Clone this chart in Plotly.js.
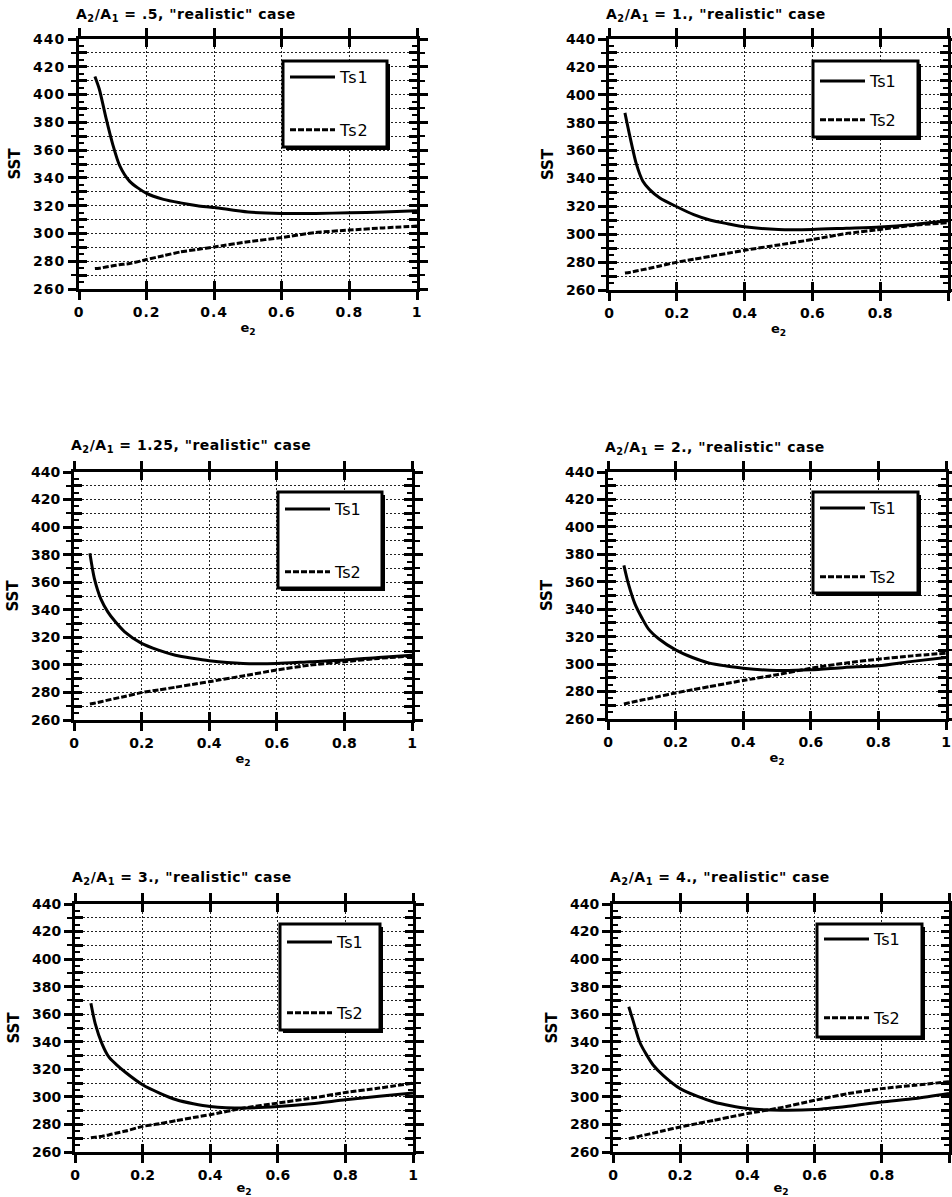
<!DOCTYPE html>
<html><head><meta charset="utf-8">
<script src="https://cdn.plot.ly/plotly-3.0.1.min.js"></script>
<style>
body{margin:0;background:#fff}
.annotation-text{letter-spacing:0.5px}
.xtick text,.ytick text{letter-spacing:1px}
.legendtext{letter-spacing:1px}
</style>
</head><body><div id="chart" style="width:952px;height:1197px"></div>
<script>
// ---- data ----
const ratioLabels = ['.5', '1.', '1.25', '2.', '3.', '4.'];
const seriesNames = ['Ts1', 'Ts2'];
const e2 = [0.047, 0.06, 0.08, 0.1, 0.12, 0.15, 0.2, 0.25, 0.3, 0.35, 0.4, 0.5, 0.6, 0.7, 0.8, 0.9, 1.0];

const ts1_r05  = [413, 404, 383, 364, 349, 337.5, 328.8, 324.5, 322, 320, 318.7, 315.4, 314.4, 314.4, 314.9, 315.4, 316.3];
const ts2_r05  = [274.7, 275, 275.8, 276.7, 277.5, 278.3, 281.2, 284, 286.7, 288.5, 290.3, 294, 297.1, 300.7, 302.4, 304, 305.3];
const ts1_r1   = [387, 372, 351, 338, 332, 326, 319.7, 314, 310, 307.5, 305.3, 303.4, 303.4, 304.3, 305.2, 307, 309.6];
const ts2_r1   = [272.2, 272.6, 273.6, 274.6, 275.6, 277.2, 280, 282, 284.2, 286.3, 288.5, 292.3, 296.2, 300.5, 303.4, 306.5, 308.2];
const ts1_r125 = [381, 363, 347.5, 338.5, 332, 324, 315.6, 310.7, 307, 304.8, 303, 301, 301, 302.3, 303.5, 305.4, 307];
const ts2_r125 = [271.6, 272.2, 273.3, 274.4, 275.5, 277.1, 279.9, 281.8, 283.8, 285.8, 287.8, 292, 296.3, 299.9, 302.3, 304.7, 306.4];
const ts1_r2   = [372, 358.8, 343.7, 333.8, 325.5, 318.5, 310.4, 304.8, 300.7, 298.6, 297, 295.4, 295.9, 297.6, 298.8, 302, 304.8];
const ts2_r2   = [271, 271.7, 272.7, 273.8, 274.8, 276.4, 279, 281.3, 283.6, 285.8, 288.1, 292.3, 297, 300.7, 303.6, 306, 308];
const ts1_r3   = [368, 353, 338.5, 329, 324, 317.7, 308.8, 302.8, 297.9, 295, 293, 291.9, 293, 295, 297.9, 300.4, 302.8];
const ts2_r3   = [270.3, 270.8, 271.5, 272.4, 273.6, 275.2, 278.6, 280.5, 282.8, 285, 287.1, 291.9, 295.5, 299.1, 303.2, 306.4, 310];
const ts1_r4   = [365.4, 355.2, 339.5, 330.5, 323, 315.5, 306, 300.5, 296.3, 293.5, 291.5, 290.3, 290.8, 293.2, 296.3, 298.8, 302.4];
const ts2_r4   = [269.7, 270.4, 271.5, 272.6, 273.7, 275.4, 278.2, 280.6, 283, 285.5, 287.9, 292.2, 297.5, 302.4, 306, 308.5, 311];

const ts1Sets = [ts1_r05, ts1_r1, ts1_r125, ts1_r2, ts1_r3, ts1_r4];
const ts2Sets = [ts2_r05, ts2_r1, ts2_r125, ts2_r2, ts2_r3, ts2_r4];

// ---- layout geometry (pixels) ----
const W = 952, H = 1197;
const plotBoxes = [ // [left, right, top, bottom]
  [79, 417, 39, 289], [609, 948, 39, 290],
  [74, 412, 472, 720], [608, 946, 472, 719],
  [75, 413, 904, 1152], [613, 949, 904, 1152]
];
const legendBoxes = [
  [283, 387, 61, 147], [813, 918, 61, 137],
  [278, 382, 492, 588], [813, 918, 492, 593],
  [280, 380, 924, 1030], [817, 922, 924, 1037]
];
const legendFirstRow = [76, 80, 508, 507, 941, 938];
const legendGaps = [29, 15, 39, 45, 47, 55];
const titleY = [15, 15, 446, 448, 878, 878];

const FONT = 'DejaVu Sans';
const fx = px => px / W;
const fy = py => 1 - py / H;
const dotted = '2px,2px';

const data = [];
const layout = {
  width: W, height: H,
  margin: {l: 0, r: 0, t: 0, b: 0},
  paper_bgcolor: '#fff', plot_bgcolor: '#fff',
  font: {family: FONT, color: '#000'},
  showlegend: true,
  annotations: [], shapes: []
};

for (let i = 0; i < 6; i++) {
  const n = i + 1, m = i + 7;
  const xs = n === 1 ? '' : String(n), ys = xs;
  const [l, r, t, b] = plotBoxes[i];
  const legKey = n === 1 ? 'legend' : 'legend' + n;

  data.push({
    x: e2, y: ts1Sets[i], name: seriesNames[0], type: 'scatter', mode: 'lines',
    xaxis: 'x' + xs, yaxis: 'y' + ys, legend: legKey, legendgroup: 'a' + n,
    line: {color: '#000', width: 3, shape: 'spline', smoothing: 0.7}, hoverinfo: 'x+y'
  });
  data.push({
    x: e2, y: ts2Sets[i], name: seriesNames[1], type: 'scatter', mode: 'lines',
    xaxis: 'x' + xs, yaxis: 'y' + ys, legend: legKey, legendgroup: 'b' + n,
    line: {color: '#000', width: 3, dash: '6px,2px', shape: 'spline', smoothing: 0.5}, hoverinfo: 'x+y'
  });
  data.push({x: [], y: [], xaxis: 'x' + m, yaxis: 'y' + m, showlegend: false, hoverinfo: 'skip', type: 'scatter'});

  const xdom = [fx(l), fx(r)], ydom = [fy(b), fy(t)];
  layout['xaxis' + xs] = {
    domain: xdom, anchor: 'y' + ys, range: [0, 1], tick0: 0, dtick: 0.2,
    ticks: 'outside', ticklen: 8, tickwidth: 3, tickcolor: '#000',
    showline: true, linewidth: 3, linecolor: '#000', mirror: 'allticks',
    showgrid: true, gridcolor: '#222', gridwidth: 1, griddash: dotted, zeroline: false,
    tickfont: {family: FONT, size: 14, weight: 'bold'},
    title: {text: 'e<sub>2</sub>', font: {family: FONT, size: 13, weight: 'bold'}, standoff: 5},
    fixedrange: true
  };
  layout['yaxis' + ys] = {
    domain: ydom, anchor: 'x' + xs, range: [260, 440], tick0: 260, dtick: 20,
    ticks: 'outside', ticklen: 8, tickwidth: 3, tickcolor: '#000',
    showline: true, linewidth: 3, linecolor: '#000', mirror: 'allticks',
    showgrid: true, gridcolor: '#222', gridwidth: 1, griddash: dotted, zeroline: false,
    minor: {dtick: 10, ticks: 'outside', ticklen: 5, tickwidth: 2, tickcolor: '#000',
            showgrid: true, gridcolor: '#222', gridwidth: 1, griddash: dotted},
    tickfont: {family: FONT, size: 14, weight: 'bold'},
    title: {text: 'SST', font: {family: FONT, size: 15, weight: 'bold'}, standoff: 9},
    fixedrange: true
  };
  layout['xaxis' + m] = {
    domain: xdom, overlaying: 'x' + xs, anchor: 'y' + m, range: [0, 1], tick0: 0, dtick: 0.2,
    ticks: 'inside', ticklen: 8, tickwidth: 3, tickcolor: '#000',
    showline: true, linewidth: 3, linecolor: '#000', mirror: 'allticks',
    showticklabels: false, showgrid: false, zeroline: false, fixedrange: true
  };
  layout['yaxis' + m] = {
    domain: ydom, overlaying: 'y' + ys, anchor: 'x' + m, range: [260, 440], tick0: 260, dtick: 10,
    ticks: 'inside', ticklen: 8, tickwidth: 3, tickcolor: '#000',
    showline: true, linewidth: 3, linecolor: '#000', mirror: 'allticks',
    minor: {dtick: 5, ticks: 'inside', ticklen: 5, tickwidth: 2, tickcolor: '#000', showgrid: false},
    showticklabels: false, showgrid: false, zeroline: false, fixedrange: true
  };

  const [bl, br, bt, bb] = legendBoxes[i];
  layout.shapes.push({type: 'rect', xref: 'paper', yref: 'paper',
    x0: fx(bl + 3), x1: fx(br + 3), y0: fy(bb + 3), y1: fy(bt + 3),
    fillcolor: '#000', line: {width: 0}});
  layout.shapes.push({type: 'rect', xref: 'paper', yref: 'paper',
    x0: fx(bl), x1: fx(br), y0: fy(bb), y1: fy(bt),
    fillcolor: '#fff', line: {color: '#000', width: 3}});
  layout[legKey] = {
    x: fx(bl + 2), y: fy(legendFirstRow[i] - 16), xanchor: 'left', yanchor: 'top',
    bgcolor: 'rgba(0,0,0,0)', borderwidth: 0, itemwidth: 45,
    tracegroupgap: legendGaps[i], traceorder: 'grouped',
    font: {family: FONT, size: 16, color: '#000'}
  };

  layout.annotations.push({
    xref: 'paper', yref: 'paper', x: fx(l - 5), y: fy(titleY[i]),
    xanchor: 'left', yanchor: 'middle', showarrow: false,
    text: 'A<sub>2</sub>/A<sub>1</sub> = ' + ratioLabels[i] + ', "realistic" case',
    font: {family: FONT, size: 14, weight: 'bold', color: '#000'}
  });
}

Plotly.newPlot('chart', data, layout, {displayModeBar: false, staticPlot: true});
</script>
</body></html>
